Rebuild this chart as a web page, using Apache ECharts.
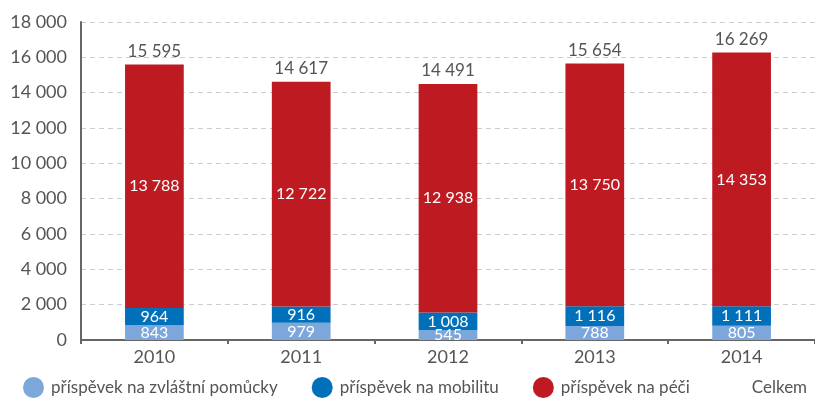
<!DOCTYPE html>
<html>
<head>
<meta charset="utf-8">
<script src="https://cdn.jsdelivr.net/npm/echarts@6/dist/echarts.min.js"></script>
<style>
  html, body { margin: 0; padding: 0; background: #fff; }
  #chart { width: 815px; height: 403px; }
</style>
</head>
<body>
<div id="chart"></div>
<script>
const years = ['2010', '2011', '2012', '2013', '2014']
const pomucky = [843, 979, 545, 788, 805]
const mobilita = [964, 916, 1008, 1116, 1111]
const peci = [13788, 12722, 12938, 13750, 14353]
const celkem = [15595, 14617, 14491, 15654, 16269]

const fmt = (v) => String(v).replace(/\B(?=(\d{3})+(?!\d))/g, ' ')
const FONT = 'Lato, "DejaVu Sans", sans-serif'
const textGrey = '#555'

const innerLabel = {
  show: true,
  position: 'inside',
  color: '#fff',
  fontSize: 16,
  fontFamily: FONT,
  formatter: (p) => fmt(p.value)
}

const chart = echarts.init(document.getElementById('chart'))
chart.setOption({
  animation: false,
  grid: { left: 81, right: -6, top: 22, bottom: 63 },
  legend: {
    left: 18,
    bottom: 0,
    icon: 'circle',
    itemWidth: 21,
    itemHeight: 21,
    itemGap: 34,
    textStyle: { color: textGrey, fontSize: 17, fontFamily: FONT, padding: [0, 0, 0, 2] },
    data: [
      'příspěvek na zvláštní pomůcky',
      'příspěvek na mobilitu',
      'příspěvek na péči',
      { name: 'Celkem', icon: 'none' }
    ]
  },
  xAxis: {
    type: 'category',
    data: years,
    axisLine: { lineStyle: { color: '#666', width: 2 } },
    axisTick: { show: true, length: 4, lineStyle: { color: '#666', width: 2 } },
    axisLabel: { color: textGrey, fontSize: 18, fontFamily: FONT, margin: 8 }
  },
  yAxis: {
    type: 'value',
    min: 0,
    max: 18000,
    interval: 2000,
    axisLine: { show: true, lineStyle: { color: '#666', width: 2 } },
    axisTick: { show: false },
    axisLabel: { color: textGrey, fontSize: 18, fontFamily: FONT, margin: 14, formatter: fmt },
    splitLine: { lineStyle: { color: '#ccc', type: [5, 4] } }
  },
  series: [
    {
      name: 'příspěvek na zvláštní pomůcky',
      type: 'bar',
      stack: 'a',
      barWidth: '40%',
      itemStyle: { color: '#7da7db' },
      label: innerLabel,
      data: pomucky
    },
    {
      name: 'příspěvek na mobilitu',
      type: 'bar',
      stack: 'a',
      itemStyle: { color: '#0070bb' },
      label: innerLabel,
      data: mobilita
    },
    {
      name: 'příspěvek na péči',
      type: 'bar',
      stack: 'a',
      itemStyle: { color: '#bd1a21' },
      label: innerLabel,
      data: peci
    },
    {
      name: 'Celkem',
      type: 'line',
      symbol: 'circle',
      symbolSize: 1,
      showSymbol: true,
      itemStyle: { color: 'rgba(0,0,0,0)' },
      lineStyle: { width: 0, color: 'rgba(0,0,0,0)' },
      label: {
        show: true,
        position: 'top',
        distance: 4,
        color: textGrey,
        fontSize: 17,
        fontFamily: FONT,
        formatter: (p) => fmt(p.value)
      },
      data: celkem
    }
  ]
})
</script>
</body>
</html>
